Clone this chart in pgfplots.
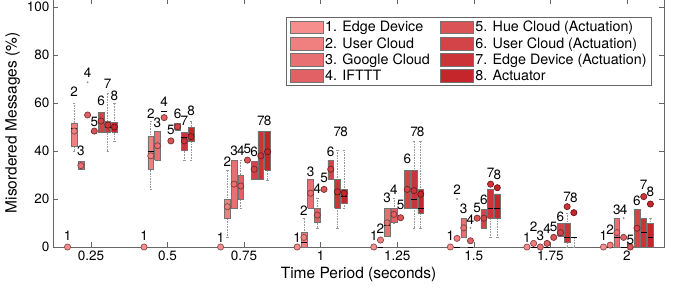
\documentclass[border=0pt]{standalone}
\usepackage{fontspec}
\setmainfont{TeX Gyre Heros}
\usepackage{pgfplots}
\pgfplotsset{compat=1.18}
\definecolor{c1}{RGB}{247,142,142}
\definecolor{c2}{RGB}{240,127,128}
\definecolor{c3}{RGB}{232,112,114}
\definecolor{c4}{RGB}{225,97,100}
\definecolor{c5}{RGB}{218,83,86}
\definecolor{c6}{RGB}{211,68,72}
\definecolor{c7}{RGB}{203,53,58}
\definecolor{c8}{RGB}{196,38,44}
\newcommand\fs[1]{\fontsize{#1}{#1}\selectfont}
\newcommand\deferred{}
% \bx{group}{series}{lower whisker}{q1}{median}{q3}{upper whisker}{mean}{label y}
\newcommand{\bx}[9]{%
\pgfmathsetmacro\bxpos{#1+(#2-4.5)*0.0219}%
\pgfmathsetmacro\bxleft{\bxpos-0.0095}%
\pgfmathsetmacro\bxright{\bxpos+0.0095}%
\pgfmathsetmacro\capleft{\bxpos-0.004}%
\pgfmathsetmacro\capright{\bxpos+0.004}%
\edef\doit{%
\noexpand\addplot[forget plot, densely dotted, black!40, line width=0.6pt, unbounded coords=jump]
 coordinates {(\bxpos,#3) (\bxpos,#4) (\bxpos,nan) (\bxpos,#6) (\bxpos,#7)};
\noexpand\addplot[forget plot, black!40, line width=0.5pt, unbounded coords=jump]
 coordinates {(\capleft,#3) (\capright,#3) (\bxpos,nan) (\capleft,#7) (\capright,#7)};
\noexpand\addplot[forget plot, fill=c#2, draw=black!55, line width=0.6pt]
 coordinates {(\bxleft,#4) (\bxright,#4) (\bxright,#6) (\bxleft,#6) (\bxleft,#4)};
\noexpand\addplot[forget plot, black, line width=1pt]
 coordinates {(\bxleft,#5) (\bxright,#5)};
}\doit
\xdef\deferred{\unexpanded\expandafter{\deferred}%
\noexpand\addplot[forget plot, only marks, mark=*, mark size=3.1pt,
 mark options={fill=c#2, draw=c#2!55!black, line width=0.7pt}] coordinates {(\bxpos,#8)};
\noexpand\addplot[forget plot, draw=none, mark=none, nodes near coords={#2},
 nodes near coords align={center},
 every node near coord/.append style={font=\noexpand\fs{13.5}, text=black, inner sep=0pt, anchor=center}]
 coordinates {(\bxpos,#9)};}%
}
\newcommand{\legitem}[2]{%
\addlegendimage{legend image code/.code={\draw[fill=c#1,draw=black!55,line width=0.6pt] (0pt,-6.3pt) rectangle (33pt,6.3pt);}}
\addlegendentry{#2}}
\begin{document}
\begin{tikzpicture}
\begin{axis}[name=ax, scale only axis, width=611pt, height=248.4pt,
 xmin=0.126, xmax=2.121, ymin=0, ymax=103.5,
 xtick={0.25,0.5,0.75,1,1.25,1.5,1.75,2},
 xticklabels={0.25,0.5,0.75,1,1.25,1.5,1.75,2},
 ytick={0,20,40,60,80,100},
 tick align=inside, major tick length=5pt,
 axis line style={black!60, line width=0.6pt},
 tick style={black!60, line width=0.5pt},
 tick label style={font=\fs{13.5}},
 /pgf/number format/assume math mode=true,
 xlabel={Time Period (seconds)}, ylabel={Misordered Messages (\%)},
 label style={font=\fs{15.5}},
 legend columns=2,
 legend cell align=left,
 legend style={at={(0.980,0.926)}, anchor=north east, draw=black!60,
   line width=0.5pt, font=\fs{14.3},
   /tikz/every even column/.append style={column sep=8pt}},
]
\legitem{1}{1. Edge Device}
\legitem{5}{5. Hue Cloud (Actuation)}
\legitem{2}{2. User Cloud}
\legitem{6}{6. User Cloud (Actuation)}
\legitem{3}{3. Google Cloud}
\legitem{7}{7. Edge Device (Actuation)}
\legitem{4}{4. IFTTT}
\legitem{8}{8. Actuator}
% group 0.25
\bx{0.25}{1}{0}{0}{0}{0}{0}{0}{4.5}
\bx{0.25}{2}{40}{42}{49.5}{51.7}{60}{48.3}{64.5}
\bx{0.25}{3}{32.5}{32.5}{34}{35.8}{35.8}{33.9}{40}
\bx{0.25}{4}{55}{55}{55}{55}{55}{55}{72.5}
\bx{0.25}{5}{48}{48}{48}{48}{48}{48.3}{52}
\bx{0.25}{6}{48}{48}{52}{56}{56}{52.5}{61}
\bx{0.25}{7}{40}{48}{50}{52.2}{64}{50.8}{68}
\bx{0.25}{8}{44}{48}{49.5}{52}{60}{50}{63}
% group 0.5
\bx{0.5}{1}{0}{0}{0}{0}{0}{0}{4.5}
\bx{0.5}{2}{24}{32.5}{39.7}{46.2}{52.2}{38}{55.5}
\bx{0.5}{3}{36.2}{36.2}{42}{48.3}{48.3}{42.2}{51.8}
\bx{0.5}{4}{56.4}{56.4}{56.4}{56.4}{56.4}{53.9}{60.4}
\bx{0.5}{5}{44.2}{44.2}{44.2}{44.2}{44.2}{44.2}{48.7}
\bx{0.5}{6}{48.7}{48.7}{50}{51.6}{51.6}{50.1}{55.7}
\bx{0.5}{7}{36}{40.1}{45.5}{47.6}{47.6}{44.2}{52.5}
\bx{0.5}{8}{36}{44.2}{47}{50}{52.2}{46}{56.7}
% group 0.75
\bx{0.75}{1}{0}{0}{0}{0}{0}{0}{4}
\bx{0.75}{2}{4}{12}{17}{19.9}{32}{16.8}{35.5}
\bx{0.75}{3}{16.1}{16.1}{26}{36.2}{36.2}{26.2}{40.1}
\bx{0.75}{4}{16}{19.9}{24.6}{30}{36}{25.4}{40.1}
\bx{0.75}{5}{36.2}{36.2}{36.2}{36.2}{36.2}{36.2}{40.8}
\bx{0.75}{6}{28.2}{28.2}{32}{35.8}{35.8}{32.4}{39.7}
\bx{0.75}{7}{28.2}{28.2}{38}{48.3}{48.3}{38}{52.6}
\bx{0.75}{8}{28}{32}{40}{48.3}{48.3}{39.7}{52.6}
% group 1
\bx{1}{1}{0}{0}{0}{0}{0}{0}{4}
\bx{1}{2}{0}{0}{2}{6.1}{12}{4}{15.1}
\bx{1}{3}{16.1}{16.1}{22}{28.2}{28.2}{22.4}{31.4}
\bx{1}{4}{7.9}{10.1}{13}{16.1}{20.3}{13.3}{24.4}
\bx{1}{5}{24}{24}{24}{24}{24}{24}{28.9}
\bx{1}{6}{28.2}{28.2}{32}{36.2}{36.2}{32.4}{39.7}
\bx{1}{7}{8}{16.1}{22}{28.2}{40.4}{23}{48}
\bx{1}{8}{16}{18.2}{21}{24}{40.4}{22.4}{48}
% group 1.25
\bx{1.25}{1}{0}{0}{0}{0}{0}{0}{4.6}
\bx{1.25}{2}{0}{0}{0}{0}{0}{2.9}{7.8}
\bx{1.25}{3}{4.3}{4.3}{9}{16.1}{16.1}{10.1}{20.3}
\bx{1.25}{4}{10.1}{10.1}{13}{16.1}{20.3}{13.6}{23.7}
\bx{1.25}{5}{12.2}{12.2}{12.2}{12.2}{12.2}{12.2}{17.5}
\bx{1.25}{6}{16.1}{16.1}{24}{32}{32}{24}{36.9}
\bx{1.25}{7}{8}{16.1}{20}{32}{43.9}{23.5}{48}
\bx{1.25}{8}{8}{14}{16}{24}{43.9}{22}{48}
% group 1.5
\bx{1.5}{1}{0}{0}{0}{0}{0}{0}{4.6}
\bx{1.5}{2}{0}{0}{0}{0}{0}{3.6}{23.7}
\bx{1.5}{3}{4}{4}{8}{12}{12}{8}{16.1}
\bx{1.5}{4}{0}{0}{0}{0}{0}{2.6}{11.5}
\bx{1.5}{5}{12}{12}{12}{12}{12}{12}{16.1}
\bx{1.5}{6}{8}{8}{12}{15.8}{15.8}{12}{19.6}
\bx{1.5}{7}{3.9}{12}{16.1}{24}{24}{26.2}{31}
\bx{1.5}{8}{3.9}{12}{16.1}{22.1}{22.1}{24.7}{30}
% group 1.75
\bx{1.75}{1}{0}{0}{0}{0}{0}{0}{4}
\bx{1.75}{2}{0}{0}{0}{0}{0}{1.5}{8.5}
\bx{1.75}{3}{0}{0}{0}{0}{0}{0}{4.6}
\bx{1.75}{4}{0}{0}{0}{0}{0}{1.5}{7.8}
\bx{1.75}{5}{4}{4}{4}{4}{4}{4}{8.5}
\bx{1.75}{6}{4.6}{4.6}{6}{9.9}{9.9}{6}{12.4}
\bx{1.75}{7}{0}{1.8}{4}{9.9}{14}{16.8}{21}
\bx{1.75}{8}{0}{4}{4}{4}{4}{14.3}{20.3}
% group 2
\bx{2}{1}{0}{0}{0}{0}{0}{0}{4.6}
\bx{2}{2}{0}{0}{0}{0}{0}{0.8}{7.4}
\bx{2}{3}{0}{0}{4}{12}{12}{6}{15.4}
\bx{2}{4}{0}{0}{0}{0}{0}{4}{15.4}
\bx{2}{5}{0}{0}{0}{0}{0}{0}{3}
\bx{2}{6}{0}{0}{8}{15.8}{15.8}{7.8}{19.3}
\bx{2}{7}{0}{0}{6}{12}{12}{21}{25.8}
\bx{2}{8}{0}{0}{4}{9.9}{12}{17.9}{23}
% outliers
\addplot[forget plot, only marks, mark=*, mark size=0.7pt, black!45]
 coordinates {(0.239,68.6) (1.4452,20) (1.489,8) (1.989,12)};
% mean markers and number labels, drawn on top of the boxes
\deferred
\end{axis}
\pgfresetboundingbox
\path ([xshift=-53pt,yshift=-43pt]ax.south west) rectangle ([xshift=625pt,yshift=247pt]ax.south west);
\end{tikzpicture}
\end{document}
